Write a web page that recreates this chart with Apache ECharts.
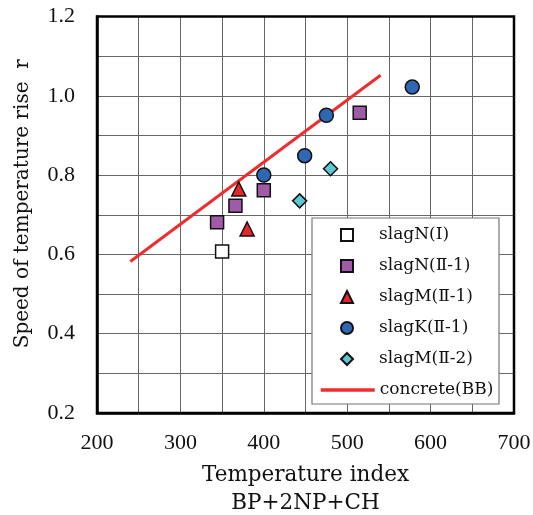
<!DOCTYPE html>
<html>
<head>
<meta charset="utf-8">
<script src="https://cdn.jsdelivr.net/npm/echarts@6/dist/echarts.min.js"></script>
<style>
  html, body { margin: 0; padding: 0; background: #fff; }
  #chart { width: 533px; height: 515px; }
</style>
</head>
<body>
<div id="chart"></div>
<script>
// Temperature index (BP+2NP+CH) vs. speed of temperature rise r
const slagN_I    = [[350, 0.607]];
const slagN_II1  = [[344, 0.681], [366, 0.723], [400, 0.762], [515, 0.957]];
const slagM_II1  = [[370, 0.765], [380, 0.664]];
const slagK_II1  = [[400, 0.800], [449, 0.849], [475, 0.951], [578, 1.022]];
const slagM_II2  = [[443, 0.735], [480, 0.816]];
const concreteBB = [[240, 0.582], [540, 1.052]];

const seriesNames = ['slagN(Ⅰ)', 'slagN(Ⅱ-1)', 'slagM(Ⅱ-1)', 'slagK(Ⅱ-1)', 'slagM(Ⅱ-2)', 'concrete(BB)'];
const xTicks = { min: 200, max: 700, step: 100 };
const yTicks = { min: 0.2, max: 1.2, step: 0.2 };

const serif = '"Liberation Serif", "DejaVu Serif", serif';
const wideSerif = '"DejaVu Serif", "Liberation Serif", serif';
const gridColor = '#666';

const chart = echarts.init(document.getElementById('chart'), null, { renderer: 'canvas' });

function scatter(name, data, symbol, size, color) {
  return {
    name, type: 'scatter', data, symbol, symbolSize: size,
    itemStyle: { color, borderColor: '#111', borderWidth: 1.5, opacity: 1 },
    z: 5
  };
}

const legendText = { fontFamily: wideSerif, fontSize: 17, color: '#111', lineHeight: 20 };

chart.setOption({
  animation: false,
  backgroundColor: '#fff',
  textStyle: { fontFamily: serif },
  grid: {
    left: 97, top: 16.5, width: 417, height: 396.5,
    containLabel: false, outerBoundsMode: 'none',
    show: true, borderColor: '#000', borderWidth: 2.5, backgroundColor: 'transparent', z: 3
  },
  xAxis: {
    type: 'value', min: xTicks.min, max: xTicks.max, interval: xTicks.step,
    name: 'Temperature index\nBP+2NP+CH',
    nameLocation: 'middle', nameGap: 48,
    nameTextStyle: { fontFamily: wideSerif, fontSize: 21.5, color: '#111', lineHeight: 28 },
    axisLine: { show: true, lineStyle: { color: '#000', width: 2.5 } },
    axisTick: { show: false },
    axisLabel: { fontFamily: serif, fontSize: 22, color: '#111', margin: 19 },
    splitLine: { show: true, lineStyle: { color: gridColor, width: 1 } },
    minorTick: { show: false, splitNumber: 2 },
    minorSplitLine: { show: true, lineStyle: { color: gridColor, width: 1 } }
  },
  yAxis: {
    type: 'value', min: yTicks.min, max: yTicks.max, interval: yTicks.step,
    name: 'Speed of temperature rise  r',
    nameLocation: 'middle', nameGap: 64,
    nameTextStyle: { fontFamily: wideSerif, fontSize: 20, color: '#111', padding: [0, 0, 0, 22] },
    axisLine: { show: true, lineStyle: { color: '#000', width: 2.5 } },
    axisTick: { show: false },
    axisLabel: { fontFamily: serif, fontSize: 22, color: '#111', margin: 22,
      formatter: v => v.toFixed(1) },
    splitLine: { show: true, lineStyle: { color: gridColor, width: 1 } },
    minorTick: { show: false, splitNumber: 2 },
    minorSplitLine: { show: true, lineStyle: { color: gridColor, width: 1 } }
  },
  graphic: [{
    type: 'rect', z: 6,
    shape: { x: 312, y: 218, width: 187, height: 186 },
    style: { fill: '#fff', stroke: '#777', lineWidth: 1.2 }
  }],
  legend: [
    {
      // marker entries
      orient: 'vertical', left: 340, top: 225, padding: 0,
      itemWidth: 12, itemHeight: 12, itemGap: 11,
      data: seriesNames.slice(0, 5),
      textStyle: Object.assign({ padding: [0, 0, 0, 21] }, legendText),
      z: 8
    },
    {
      // line entry
      orient: 'vertical', left: 319, top: 380, padding: 0,
      itemWidth: 54, itemHeight: 12,
      data: [{ name: seriesNames[5], itemStyle: { opacity: 0 } }],
      lineStyle: { width: 3.5 },
      textStyle: legendText,
      z: 8
    }
  ],
  series: [
    scatter(seriesNames[0], slagN_I, 'rect', 13, '#ffffff'),
    scatter(seriesNames[1], slagN_II1, 'rect', 13, '#A05AA8'),
    scatter(seriesNames[2], slagM_II1, 'triangle', 14, '#E8262A'),
    scatter(seriesNames[3], slagK_II1, 'circle', 14, '#2E68B4'),
    scatter(seriesNames[4], slagM_II2, 'diamond', 14, '#5BC9D3'),
    {
      name: seriesNames[5], type: 'line', data: concreteBB,
      symbol: 'none', showSymbol: false,
      lineStyle: { color: '#EE2E2E', width: 3 },
      itemStyle: { color: '#EE2E2E' },
      z: 4
    }
  ]
});
</script>
</body>
</html>
